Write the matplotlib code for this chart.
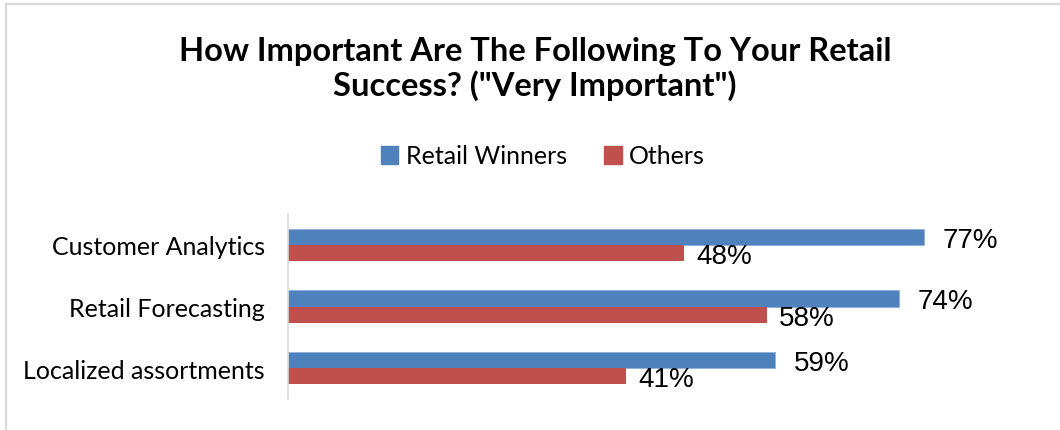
import numpy as np
import matplotlib.pyplot as plt
from matplotlib.patches import Patch

# --- chart data ---
categories = ['Customer Analytics', 'Retail Forecasting', 'Localized assortments']
series_names = ['Retail Winners', 'Others']
winners = [77, 74, 59]
others = [48, 58, 41]

BLUE = '#4F81BD'
RED = '#C0504D'

fig = plt.figure(figsize=(10.6, 4.31), dpi=100, facecolor='white')

# light chart frame (only top/left visible in the crop)
fig.add_artist(plt.Line2D([5.5/1060, 5.5/1060], [0, 1 - 4.5/431], transform=fig.transFigure, color='#d9d9d9', lw=1.6))
fig.add_artist(plt.Line2D([5.5/1060, 1], [1 - 4.5/431, 1 - 4.5/431], transform=fig.transFigure, color='#d9d9d9', lw=1.6))

ax = fig.add_axes([288/1060, 1 - 400/431, 743/1060, 185/431])

y = np.arange(len(categories))
h = 0.26
ax.barh(y - h/2, winners, height=h, color=BLUE, edgecolor='#8eb0d9', linewidth=0.6)
ax.barh(y + h/2, others, height=h, color=RED)

px = 0.72  # points per pixel at 100 dpi
for i in range(len(categories)):
    ax.annotate(f'{winners[i]}%', (winners[i], y[i] - h/2), xytext=(19*px, -3*px),
                textcoords='offset points', va='center', ha='left',
                fontsize=20, family='Liberation Sans', color='black')
    ax.annotate(f'{others[i]}%', (others[i], y[i] + h/2), xytext=(12*px, -3*px),
                textcoords='offset points', va='center', ha='left',
                fontsize=20, family='Liberation Sans', color='black')

ax.set_xlim(0, 90)
ax.set_ylim(len(categories) - 0.5, -0.5)
ax.set_yticks(y)
ax.set_yticklabels(categories, fontsize=18, family='Lato', color='black')
ax.set_xticks([])
ax.tick_params(axis='y', length=0, pad=16.5)
for s in ['top', 'right', 'bottom']:
    ax.spines[s].set_visible(False)
ax.spines['left'].set_color('#d9d9d9')
ax.spines['left'].set_linewidth(1.2)

fig.text(535/1060, 1 - 69/431, 'How Important Are The Following To Your Retail\nSuccess? ("Very Important")',
         ha='center', va='center', fontsize=23.5, fontweight='bold', family='Lato', linespacing=1.2)

handles = [Patch(color=BLUE), Patch(color=RED)]
fig.legend(handles, series_names, loc='center', bbox_to_anchor=(543/1060, 1 - 157/431),
           ncol=2, frameon=False, prop={'family': 'Lato', 'size': 18},
           handlelength=0.7, handleheight=0.7, handletextpad=0.3, columnspacing=1.5)

fig.savefig('out.png', dpi=100, facecolor='white')
